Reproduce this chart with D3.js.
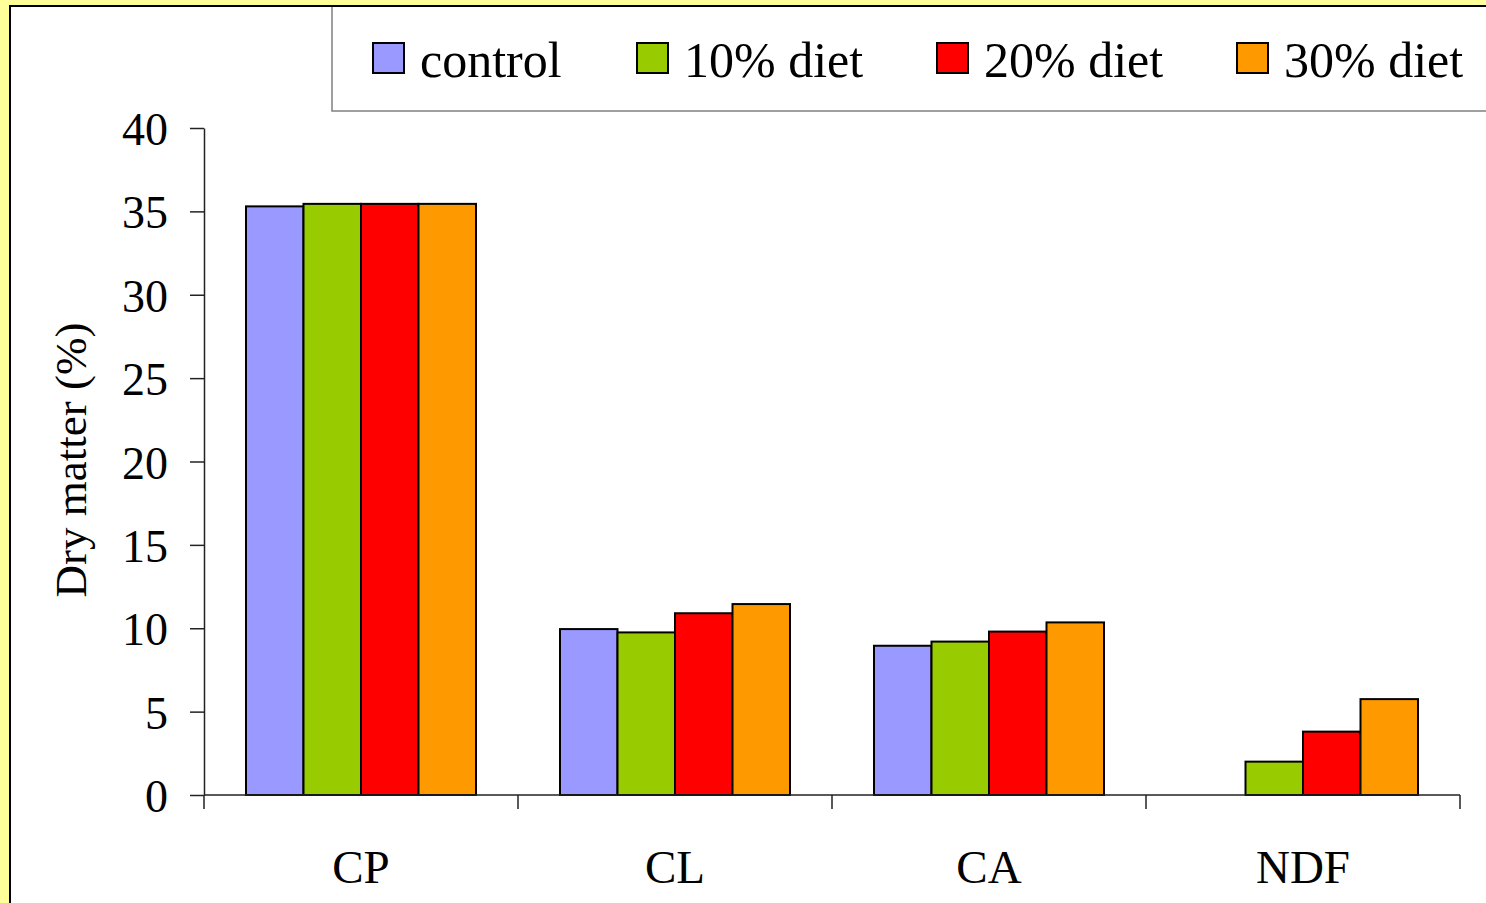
<!DOCTYPE html>
<html><head><meta charset="utf-8">
<script src="https://cdn.jsdelivr.net/npm/d3@7"></script>
<style>
html,body{margin:0;padding:0;background:#FFFF99;overflow:hidden;}
svg{display:block;}
text{font-family:"Liberation Serif","Times New Roman",serif;fill:#000;}
</style></head>
<body>
<script>
const categories = ["CP", "CL", "CA", "NDF"];
const seriesNames = ["control", "10% diet", "20% diet", "30% diet"];
const control = [35.3, 9.95, 8.95, null];
const diet10 = [35.45, 9.75, 9.2, 2.0];
const diet20 = [35.45, 10.9, 9.8, 3.8];
const diet30 = [35.45, 11.45, 10.35, 5.75];
const colors = ["#9999FF", "#99CC00", "#FF0000", "#FF9900"];
const yTicks = [0, 5, 10, 15, 20, 25, 30, 35, 40];
const yTitle = "Dry matter (%)";

const series = [control, diet10, diet20, diet30];
const W = 1486, H = 903;
const svg = d3.select("body").append("svg").attr("width", W).attr("height", H);

// white frame
svg.append("rect").attr("x", 10).attr("y", 6).attr("width", W + 20).attr("height", H + 20)
  .attr("fill", "#fff").attr("stroke", "#000").attr("stroke-width", 2);

const x0 = d3.scaleBand().domain(categories).range([204, 1460]).padding(0);
const x1 = d3.scaleBand().domain(seriesNames).range([42, x0.bandwidth() - 42]).padding(0);
const y = d3.scaleLinear().domain([0, 40]).range([795, 128]);

// bars
const g = svg.append("g");
categories.forEach((c, ci) => {
  seriesNames.forEach((s, si) => {
    const v = series[si][ci];
    if (v == null) return;
    g.append("rect")
      .attr("x", x0(c) + x1(s))
      .attr("y", y(v))
      .attr("width", x1.bandwidth())
      .attr("height", y(0) - y(v))
      .attr("fill", colors[si])
      .attr("stroke", "#000").attr("stroke-width", 2);
  });
});

// y axis
const yAxis = d3.axisLeft(y).tickValues(yTicks).tickSize(14).tickSizeOuter(0).tickPadding(22);
const ya = svg.append("g").attr("transform", "translate(204,0)").call(yAxis);
ya.attr("font-family", null);
ya.selectAll("path,line").attr("stroke", "#222").attr("stroke-width", 1.5);
ya.selectAll("text").attr("font-size", 46).attr("dy", "0.36em")
  .style("font-family", '"Liberation Serif", serif');

// x axis
const xAxisLine = svg.append("g");
xAxisLine.append("line").attr("x1", 204).attr("x2", 1460).attr("y1", y(0)).attr("y2", y(0))
  .attr("stroke", "#222").attr("stroke-width", 1.5);
const xTickPos = categories.map(c => x0(c)).concat([x0.range()[1]]);
xAxisLine.selectAll("line.t").data(xTickPos).enter().append("line")
  .attr("x1", d => d).attr("x2", d => d).attr("y1", y(0)).attr("y2", y(0) + 14)
  .attr("stroke", "#222").attr("stroke-width", 1.5);
svg.selectAll("text.cat").data(categories).enter().append("text")
  .attr("x", d => x0(d) + x0.bandwidth() / 2).attr("y", 883)
  .attr("text-anchor", "middle").attr("font-size", 47).text(d => d);

// y title
svg.append("text").attr("transform", "translate(86,460) rotate(-90)")
  .attr("text-anchor", "middle").attr("font-size", 45).text(yTitle);

// legend
svg.append("rect").attr("x", 332).attr("y", 6).attr("width", W).attr("height", 105)
  .attr("fill", "#fff").attr("stroke", "#808080").attr("stroke-width", 1.5);
svg.append("line").attr("x1", 10).attr("x2", W).attr("y1", 6).attr("y2", 6)
  .attr("stroke", "#000").attr("stroke-width", 2);
const legX = [373, 637, 937, 1237];
seriesNames.forEach((s, i) => {
  svg.append("rect").attr("x", legX[i]).attr("y", 43).attr("width", 31).attr("height", 30)
    .attr("fill", colors[i]).attr("stroke", "#000").attr("stroke-width", 2);
  svg.append("text").attr("x", legX[i] + 47).attr("y", 77).attr("font-size", 50).text(s);
});
</script>
</body></html>
